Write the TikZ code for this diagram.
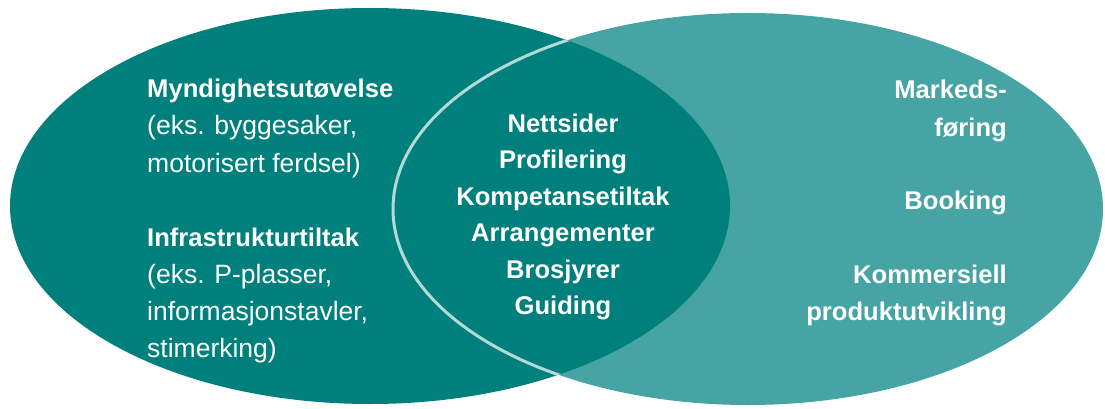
\documentclass[tikz,border=0pt]{standalone}
\usepackage{fontspec}
\setmainfont{Liberation Sans}
\definecolor{darkteal}{RGB}{0,128,124}
\definecolor{lightteal}{RGB}{70,165,164}
\definecolor{rimline}{RGB}{178,218,214}
\begin{document}
\begin{tikzpicture}[x=1pt,y=1pt,
  txt/.style={text=white,inner sep=0pt,font=\fontsize{26.5}{30}\selectfont},
  bold/.style={txt,font=\fontsize{25.6}{30}\selectfont\bfseries},
  lft/.style={anchor=base west},
  ctr/.style={anchor=base},
  rgt/.style={anchor=base east}]
\useasboundingbox (0,0) rectangle (1105,-409);
% ellipses
\fill[lightteal] (748,-209) ellipse [x radius=355pt, y radius=196pt];
\fill[darkteal] (370,-206) ellipse [x radius=360pt, y radius=198pt];
\begin{scope}
  \clip (370,-206) ellipse [x radius=360pt, y radius=198pt];
  \draw[rimline, line width=3pt] (748,-209) ellipse [x radius=355pt, y radius=196pt];
\end{scope}
% left texts
\node[bold,lft] (l1) at (147,-98) {Myndighetsutøvelse};
\node[txt,lft] (l2) at (147,-135) {(eks. byggesaker,};
\node[txt,lft] (l3) at (147,-172) {motorisert ferdsel)};
\node[bold,lft] (l4) at (147,-246) {Infrastrukturtiltak};
\node[txt,lft] (l5) at (147,-283) {(eks. P-plasser,};
\node[txt,lft] (l6) at (147,-320) {informasjonstavler,};
\node[txt,lft] (l7) at (147,-357) {stimerking)};
% centre texts
\node[bold,ctr] (c1) at (563,-132) {Nettsider};
\node[bold,ctr] (c2) at (563,-168.5) {Profilering};
\node[bold,ctr] (c3) at (563,-205) {Kompetansetiltak};
\node[bold,ctr] (c4) at (563,-241.5) {Arrangementer};
\node[bold,ctr] (c5) at (563,-278) {Brosjyrer};
\node[bold,ctr] (c6) at (563,-314.5) {Guiding};
% right texts
\node[bold,rgt] (r1) at (1007,-99) {Markeds-};
\node[bold,rgt] (r2) at (1007,-136) {føring};
\node[bold,rgt] (r3) at (1007,-209) {Booking};
\node[bold,rgt] (r4) at (1007,-283) {Kommersiell};
\node[bold,rgt] (r5) at (1007,-320) {produktutvikling};
\end{tikzpicture}
\end{document}
